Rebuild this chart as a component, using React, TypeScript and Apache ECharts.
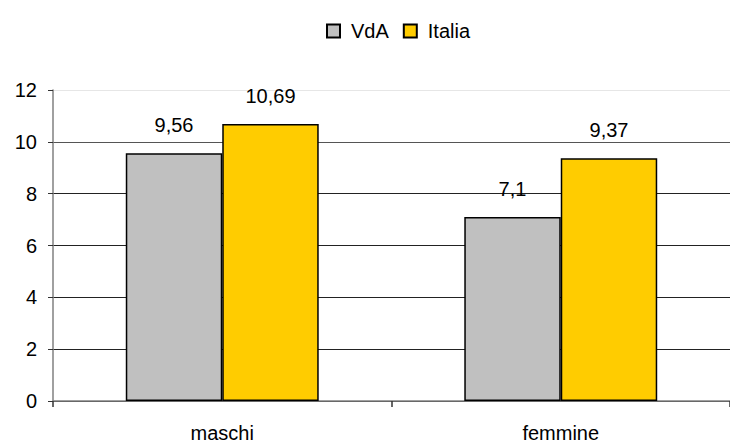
import React, { useEffect, useRef } from "react";
import * as echarts from "echarts";

const categories = ["maschi", "femmine"];
const seriesNames = ["VdA", "Italia"];
const vdaValues = [9.56, 7.1];
const italiaValues = [10.69, 9.37];
const colors = ["#C0C0C0", "#FFCC00"];

const fmt = (v: number) => String(v).replace(".", ",");

export default function App() {
  const ref = useRef<HTMLDivElement>(null);
  useEffect(() => {
    document.body.style.margin = "0";
    const chart = echarts.init(ref.current!, null, { renderer: "svg" });
    const font = "'Liberation Sans', Arial, sans-serif";
    const mkSeries = (name: string, data: number[], color: string) => ({
      name,
      type: "bar",
      data,
      barGap: "0%",
      barCategoryGap: "43%",
      itemStyle: { color, borderColor: "#000", borderWidth: 1.5 },
      label: {
        show: true,
        position: "top",
        distance: 18,
        color: "#000",
        fontFamily: font,
        fontSize: 20,
        formatter: (p: any) => fmt(p.value),
      },
    });
    chart.setOption({
      animation: false,
      backgroundColor: "#fff",
      textStyle: { fontFamily: font },
      legend: {
        data: seriesNames,
        left: 321,
        top: 16,
        itemWidth: 13,
        itemHeight: 13,
        itemGap: 14,
        icon: "rect",
        textStyle: { fontSize: 20, color: "#000", fontFamily: font, padding: [0, 0, 0, 6] },
      },
      grid: { left: 53, right: -3, top: 90, bottom: 43, containLabel: false },
      xAxis: {
        type: "category",
        data: categories,
        axisLine: { lineStyle: { color: "#808080", width: 1.5 } },
        axisTick: { show: true, length: 6, lineStyle: { color: "#333", width: 1.5 } },
        axisLabel: { color: "#000", fontSize: 20, margin: 22, fontFamily: font },
      },
      yAxis: {
        type: "value",
        min: 0,
        max: 12,
        interval: 2,
        axisLine: { show: true, lineStyle: { color: "#808080", width: 1.5 } },
        axisTick: { show: true, length: 5, lineStyle: { color: "#333", width: 1 } },
        axisLabel: { color: "#000", fontSize: 20, margin: 16, fontFamily: font },
        splitLine: {
          show: true,
          lineStyle: {
            color: ["#222", "#222", "#222", "#222", "#222", "#555", "#e6e6e6"],
            width: 1,
          },
        },
      },
      series: [
        mkSeries(seriesNames[0], vdaValues, colors[0]),
        mkSeries(seriesNames[1], italiaValues, colors[1]),
      ],
    });
    return () => chart.dispose();
  }, []);
  return <div ref={ref} style={{ width: 730, height: 444 }} />;
}
